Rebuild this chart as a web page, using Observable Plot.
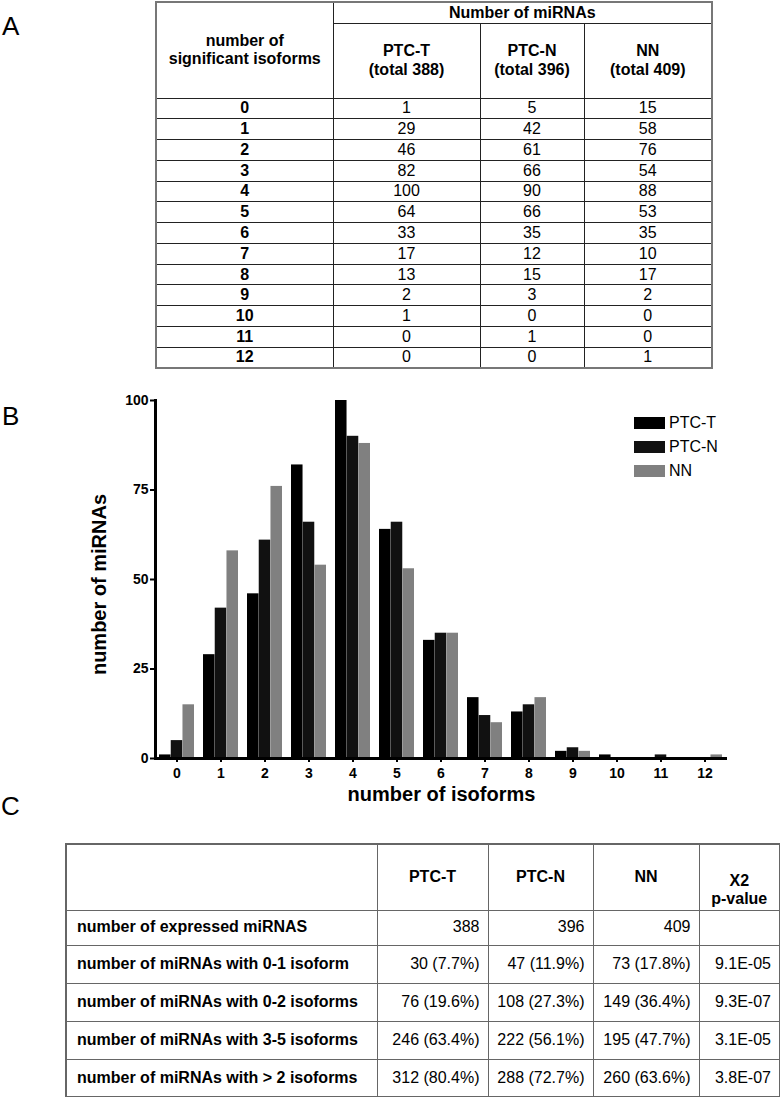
<!DOCTYPE html>
<html>
<head>
<meta charset="utf-8">
<script src="https://cdn.jsdelivr.net/npm/d3@7"></script>
<script src="https://cdn.jsdelivr.net/npm/@observablehq/plot@0.6"></script>
<style>
  body { margin: 0; background: #fff; font-family: "Liberation Sans", Arial, sans-serif; color: #000; }
  #page { position: relative; width: 780px; height: 1097px; overflow: hidden; }
  .panel { position: absolute; font-size: 26px; line-height: 1; }
  table { border-collapse: collapse; position: absolute; table-layout: fixed; }
  td { box-sizing: border-box; }
  #tableA { left: 155px; top: 1px; width: 556px; border: 2px solid #777; }
  #tableA td { border: 1px solid #222; font-size: 16px; text-align: center; padding: 0; line-height: 1.15; }
  #tableA td.b { font-weight: bold; }
  #tableA tr.body td { height: 20.77px; line-height: 1; }
  #tableC { left: 65px; top: 843px; width: 714px; border: 2px solid #666; }
  #tableC td { border: 1.5px solid #666; font-size: 16px; padding: 0 8px 0 2px; line-height: 1.15; white-space: nowrap; }
  #tableC td.lab { font-weight: bold; text-align: left; padding-left: 10px; }
  #tableC td.num { text-align: right; }
  #tableC tr.head td { font-weight: bold; text-align: center; height: 66px; padding: 0 4px; }
  #tableC tr.r0 td { height: 35px; }
  #tableC tr.rn td { height: 38px; }
  #chart { position: absolute; left: 0; top: 375px; }
  #legend { position: absolute; left: 634px; top: 411px; font-size: 16px; }
  #legend div { height: 24px; display: flex; align-items: center; }
  #legend span.sw { display: inline-block; width: 31px; height: 12px; margin-right: 4px; }
</style>
</head>
<body>
<div id="page">
  <div class="panel" style="left:2px;top:13px;">A</div>
  <div class="panel" style="left:2px;top:403px;">B</div>
  <div class="panel" style="left:1px;top:793px;">C</div>
  <table id="tableA"></table>
  <div id="chart"></div>
  <div id="legend"></div>
  <table id="tableC"></table>
</div>
<script>
// ---- data: panel A / B ----
const isoforms = [0, 1, 2, 3, 4, 5, 6, 7, 8, 9, 10, 11, 12];
const seriesNames = ["PTC-T", "PTC-N", "NN"];
const seriesTotals = [388, 396, 409];
const seriesColors = ["#000000", "#111111", "#808080"];
const ptcT = [1, 29, 46, 82, 100, 64, 33, 17, 13, 2, 1, 0, 0];
const ptcN = [5, 42, 61, 66, 90, 66, 35, 12, 15, 3, 0, 1, 0];
const nn   = [15, 58, 76, 54, 88, 53, 35, 10, 17, 2, 0, 0, 1];
const yTicks = [0, 25, 50, 75, 100];

// ---- data: panel C ----
const summaryLabels = [
  "number of expressed miRNAS",
  "number of miRNAs with 0-1 isoform",
  "number of miRNAs with 0-2 isoforms",
  "number of miRNAs with 3-5 isoforms",
  "number of miRNAs with > 2 isoforms"
];
const summaryPTCT = ["388", "30 (7.7%)", "76 (19.6%)", "246 (63.4%)", "312 (80.4%)"];
const summaryPTCN = ["396", "47 (11.9%)", "108 (27.3%)", "222 (56.1%)", "288 (72.7%)"];
const summaryNN   = ["409", "73 (17.8%)", "149 (36.4%)", "195 (47.7%)", "260 (63.6%)"];
const summaryP    = ["", "9.1E-05", "9.3E-07", "3.1E-05", "3.8E-07"];

// ---- table A ----
const seriesValues = [ptcT, ptcN, nn];
{
  const t = document.getElementById("tableA");
  let html = '<colgroup><col style="width:177px"><col style="width:147px"><col style="width:104px"><col style="width:128px"></colgroup>';
  html += '<tr style="height:21px"><td class="b" rowspan="2">number of<br>significant isoforms</td><td class="b" colspan="3">Number of miRNAs</td></tr>';
  html += '<tr style="height:75px">' + seriesNames.map((s, i) => `<td class="b">${s}<br>(total ${seriesTotals[i]})</td>`).join("") + '</tr>';
  isoforms.forEach((k, r) => {
    html += `<tr class="body"><td class="b">${k}</td>` + seriesValues.map(v => `<td>${v[r]}</td>`).join("") + '</tr>';
  });
  t.innerHTML = html;
}

// ---- table C ----
{
  const t = document.getElementById("tableC");
  let html = '<colgroup><col style="width:311px"><col style="width:111px"><col style="width:105px"><col style="width:106px"><col style="width:81px"></colgroup>';
  html += '<tr class="head"><td></td>' + seriesNames.map(s => `<td>${s}</td>`).join("") + '<td style="vertical-align:bottom;padding-bottom:1px">X2<br>p-value</td></tr>';
  summaryLabels.forEach((lab, r) => {
    html += `<tr class="${r === 0 ? "r0" : "rn"}"><td class="lab">${lab}</td><td class="num">${summaryPTCT[r]}</td><td class="num">${summaryPTCN[r]}</td><td class="num">${summaryNN[r]}</td><td class="num">${summaryP[r]}</td></tr>`;
  });
  t.innerHTML = html;
}

// ---- chart B ----
const rows = [];
seriesNames.forEach((s, i) => isoforms.forEach((k, j) => rows.push({iso: k, series: s, count: seriesValues[i][j]})));

const W = 780, H = 440, mL = 155, mR = 53, mT = 25, mB = 57;
const step = (W - mL - mR) / isoforms.length; // paddingInner .2 + 2*paddingOuter .1 => n steps
const bandwidth = step * 0.8;
const third = bandwidth / 3;

const barMarks = seriesNames.map((s, i) =>
  Plot.barY(rows.filter(d => d.series === s), {
    x: "iso", y: "count", fill: seriesColors[i],
    insetLeft: i * third, insetRight: (2 - i) * third
  })
);

const chart = Plot.plot({
  width: W, height: H,
  marginLeft: mL, marginRight: mR, marginTop: mT, marginBottom: mB,
  style: {fontFamily: '"Liberation Sans", Arial, sans-serif', background: "transparent", color: "#000"},
  x: {domain: isoforms, paddingInner: 0.2, paddingOuter: 0.1, label: null},
  y: {domain: [0, 100], label: null},
  marks: [
    ...barMarks,
    Plot.axisX({tickSize: 4, tickPadding: 6, fontSize: 14, fontWeight: "bold", strokeWidth: 2, label: null}),
    Plot.axisY({ticks: yTicks, tickSize: 5, tickPadding: 2, fontSize: 14, fontWeight: "bold", strokeWidth: 2, label: null}),
    Plot.ruleY([0], {strokeWidth: 3}),
    Plot.frame({anchor: "left", strokeWidth: 3}),
    Plot.text(["number of miRNAs"], {frameAnchor: "left", textAnchor: "middle", rotate: -90, dx: -56, dy: 5, fontSize: 20, fontWeight: "bold"}),
    Plot.text(["number of isoforms"], {frameAnchor: "bottom", dy: 42, fontSize: 20, fontWeight: "bold"})
  ]
});
document.getElementById("chart").appendChild(chart);

// ---- legend ----
document.getElementById("legend").innerHTML = seriesNames
  .map((s, i) => `<div><span class="sw" style="background:${seriesColors[i]}"></span>${s}</div>`).join("");
</script>
</body>
</html>
